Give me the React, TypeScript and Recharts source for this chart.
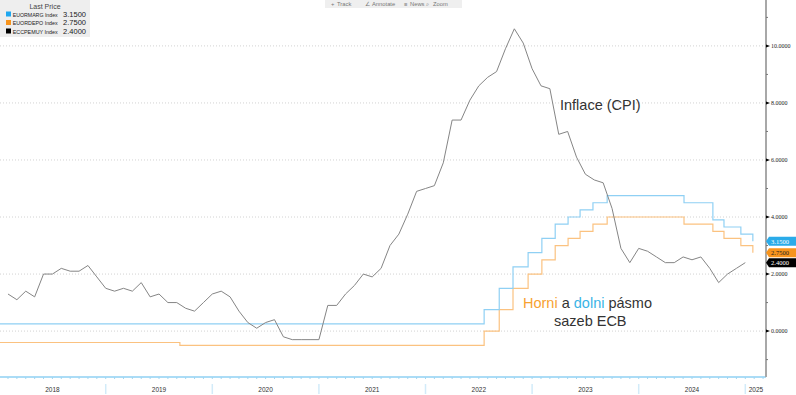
import React from 'react';
import { LineChart, Line, XAxis, YAxis, ReferenceLine, ReferenceDot } from 'recharts';

// x = months counted from 1 Jan 2018; CPI prints sit at month end
const cpiValues = [
  1.3, 1.1, 1.4, 1.2, 2.0, 2.0, 2.2, 2.1, 2.1, 2.3, 1.9, 1.5,
  1.4, 1.5, 1.4, 1.7, 1.2, 1.3, 1.0, 1.0, 0.8, 0.7, 1.0, 1.3,
  1.4, 1.2, 0.7, 0.3, 0.1, 0.3, 0.4, -0.2, -0.3, -0.3, -0.3, -0.3,
  0.9, 0.9, 1.3, 1.6, 2.0, 1.9, 2.2, 3.0, 3.4, 4.1, 4.9, 5.0,
  5.1, 5.9, 7.4, 7.4, 8.1, 8.6, 8.9, 9.1, 9.9, 10.6, 10.1, 9.2,
  8.6, 8.5, 6.9, 7.0, 6.1, 5.5, 5.3, 5.2, 4.3, 2.9, 2.4, 2.9,
  2.8, 2.6, 2.4, 2.4, 2.6, 2.5, 2.6, 2.2, 1.7, 2.0, 2.2, 2.4,
];

// ECB decision dates (as months from 1 Jan 2018)
const rateDates = [54.6, 56.3, 57.85, 59.55, 61.1, 62.6, 64.05, 65.4, 66.85, 68.45, 77.1, 80.35, 81.6, 83.5, 84.85];
const marginalStart = 0.25;
const marginalRates = [0.75, 1.5, 2.25, 2.75, 3.25, 3.75, 4.0, 4.25, 4.5, 4.75, 4.5, 3.9, 3.65, 3.4, 3.15];
const depoStart = -0.4;
const depoCut2019Date = 20.35;
const depoCut2019Rate = -0.5;
const depoRates = [0, 0.75, 1.5, 2.0, 2.5, 3.0, 3.25, 3.5, 3.75, 4.0, 3.75, 3.5, 3.25, 3.0, 2.75];

const yearLabels = ['2018', '2019', '2020', '2021', '2022', '2023', '2024', '2025'];
const yearLabelPos = [6, 18, 30, 42, 54, 66, 78, 85.2];
const monthTicks = Array.from({ length: 87 }, (_, i) => i);
const yTicks = [-1, 0, 1, 2, 3, 4, 5, 6, 7, 8, 9, 10, 11];
const gridValues = [0, 2, 4, 6, 8, 10];

const legendNames = ['EUORMARG Index', 'EUORDEPO Index', 'ECCPEMUY Index'];
const toolbarItems = [
  { icon: '+', label: 'Track', iconX: 331, textX: 337 },
  { icon: '∠', label: 'Annotate', iconX: 365, textX: 372 },
  { icon: '≡', label: 'News', iconX: 404, textX: 410 },
  { icon: '⌕', label: 'Zoom', iconX: 426, textX: 433 },
];

const cpiData = cpiValues.map((v, i) => ({ x: i + 1, v }));
const marginalData = [{ x: 0, v: marginalStart }, ...rateDates.map((x, i) => ({ x, v: marginalRates[i] }))];
const depoData = [
  { x: 0, v: depoStart },
  { x: depoCut2019Date, v: depoCut2019Rate },
  ...rateDates.map((x, i) => ({ x, v: depoRates[i] })),
];

const X_MIN = 0.1;
const X_MAX = 86.33;

const lastValues = [
  { v: marginalRates[marginalRates.length - 1], bg: '#2aabe9', fg: '#ffffff', legend: '#1ea7f0' },
  { v: depoRates[depoRates.length - 1], bg: '#f7941d', fg: '#222222', legend: '#f7941d' },
  { v: cpiValues[cpiValues.length - 1], bg: '#000000', fg: '#ffffff', legend: '#000000' },
];

const BottomTick = (props: any) => {
  const { x, y, payload } = props;
  const v = payload.value;
  const li = yearLabelPos.indexOf(v);
  const isMonth = Number.isInteger(v);
  return (
    <g>
      {isMonth && <line x1={x} x2={x} y1={y} y2={y + 2} stroke="#9fd6f3" strokeWidth={1} />}
      {isMonth && v % 12 === 0 && (
        <line x1={x} x2={x} y1={y + 7} y2={y + 17} stroke="#d2ebf9" strokeWidth={1.5} />
      )}
      {li >= 0 && (
        <text x={x} y={y + 14.5} textAnchor="middle" fontSize={6.5} fill="#333" fontFamily="Liberation Sans, Arial, sans-serif">
          {yearLabels[li]}
        </text>
      )}
    </g>
  );
};

const RightTick = (props: any) => {
  const { x, y, payload } = props;
  const v = payload.value;
  if (v % 2 !== 0) {
    return <line x1={x} x2={x + 2} y1={y} y2={y} stroke="#777" strokeWidth={1} />;
  }
  return (
    <g>
      <path d={`M${x} ${y - 1.5} L${x + 4} ${y} L${x} ${y + 1.5} Z`} fill="#000" />
      <text x={x + 5} y={y + 2} fontSize={6} fill="#222" fontFamily="Liberation Serif, serif">
        {v.toFixed(4)}
      </text>
    </g>
  );
};

const Badge = (bg: string, fg: string, label: string) => (props: any) => {
  const { cx, cy } = props;
  if (cx == null || cy == null) return <g />;
  return (
    <g>
      <path d={`M${cx} ${cy} L${cx + 3} ${cy - 4.5} L796 ${cy - 4.5} L796 ${cy + 4.5} L${cx + 3} ${cy + 4.5} Z`} fill={bg} />
      <text x={cx + 5} y={cy + 2.3} fontSize={6.5} fill={fg} fontFamily="Liberation Serif, serif">
        {label}
      </text>
    </g>
  );
};

const App: React.FC = () => {
  return (
    <div style={{ position: 'absolute', left: 0, top: 0, width: 796, height: 395, background: '#fff' }}>
      <LineChart width={796} height={395} margin={{ top: 0, right: 0, bottom: 0, left: 0 }}>
        <XAxis
          type="number"
          dataKey="x"
          domain={[X_MIN, X_MAX]}
          allowDataOverflow
          ticks={[...monthTicks, yearLabelPos[yearLabelPos.length - 1]]}
          interval={0}
          tickLine={false}
          tickSize={0}
          tickMargin={0}
          height={18}
          axisLine={{ stroke: '#8fd1f3', strokeWidth: 1.5 }}
          tick={<BottomTick />}
        />
        <YAxis
          orientation="right"
          type="number"
          domain={[-1.61, 11.61]}
          allowDataOverflow
          ticks={yTicks}
          interval={0}
          width={30}
          tickLine={false}
          tickSize={0}
          tickMargin={0}
          axisLine={{ stroke: '#a8a8a8', strokeWidth: 2 }}
          tick={<RightTick />}
        />
        {gridValues.map((g) => (
          <ReferenceLine key={g} y={g} stroke="#d2d2d2" strokeDasharray="1 2" />
        ))}
        <Line data={depoData} dataKey="v" type="stepAfter" stroke="#fbc280" strokeWidth={1.2} dot={false} isAnimationActive={false} />
        <Line data={marginalData} dataKey="v" type="stepAfter" stroke="#8fd0f4" strokeWidth={1.2} dot={false} isAnimationActive={false} />
        <Line data={cpiData} dataKey="v" type="linear" stroke="#858585" strokeWidth={1} dot={false} isAnimationActive={false} />
        {lastValues.map((b, i) => (
          <ReferenceDot
            key={i}
            x={X_MAX}
            y={b.v}
            r={0}
            ifOverflow="visible"
            shape={Badge(b.bg, b.fg, b.v.toFixed(4))}
          />
        ))}
      </LineChart>

      <svg
        width={796}
        height={395}
        style={{ position: 'absolute', left: 0, top: 0, pointerEvents: 'none' }}
        fontFamily="Liberation Sans, Arial, sans-serif"
      >
        {/* toolbar */}
        <rect x={325} y={0} width={137} height={8} fill="#efefef" />
        <g fontSize={5.8} fill="#777">
          {toolbarItems.map((t) => (
            <g key={t.label}>
              <text x={t.iconX} y={6}>{t.icon}</text>
              <text x={t.textX} y={6}>{t.label}</text>
            </g>
          ))}
        </g>

        {/* legend */}
        <rect x={0} y={0} width={90} height={37} fill="#eeeeee" />
        <text x={45} y={9} textAnchor="middle" fontSize={7} fill="#444">Last Price</text>
        {legendNames.map((name, i) => (
          <g key={name}>
            <rect x={6} y={11.5 + i * 8.5} width={5} height={5} fill={lastValues[i].legend} />
            <text x={12.7} y={16.5 + i * 8.5} fontSize={5.4} fill="#222" textLength={45} lengthAdjust="spacingAndGlyphs">
              {name}
            </text>
            <text x={63} y={16.5 + i * 8.5} fontSize={6.5} fill="#222" textLength={23} lengthAdjust="spacingAndGlyphs">
              {lastValues[i].v.toFixed(4)}
            </text>
          </g>
        ))}

        {/* annotations */}
        <text x={560} y={110} fontSize={14.5} fill="#333">Inflace (CPI)</text>
        <text x={523} y={308} fontSize={14.5} fill="#333">
          <tspan fill="#f7a232">Horni</tspan>
          <tspan> a </tspan>
          <tspan fill="#3ab4e6">dolni</tspan>
          <tspan> pásmo</tspan>
        </text>
        <text x={554} y={326} fontSize={14.5} fill="#333">sazeb ECB</text>
      </svg>
    </div>
  );
};

export default App;
